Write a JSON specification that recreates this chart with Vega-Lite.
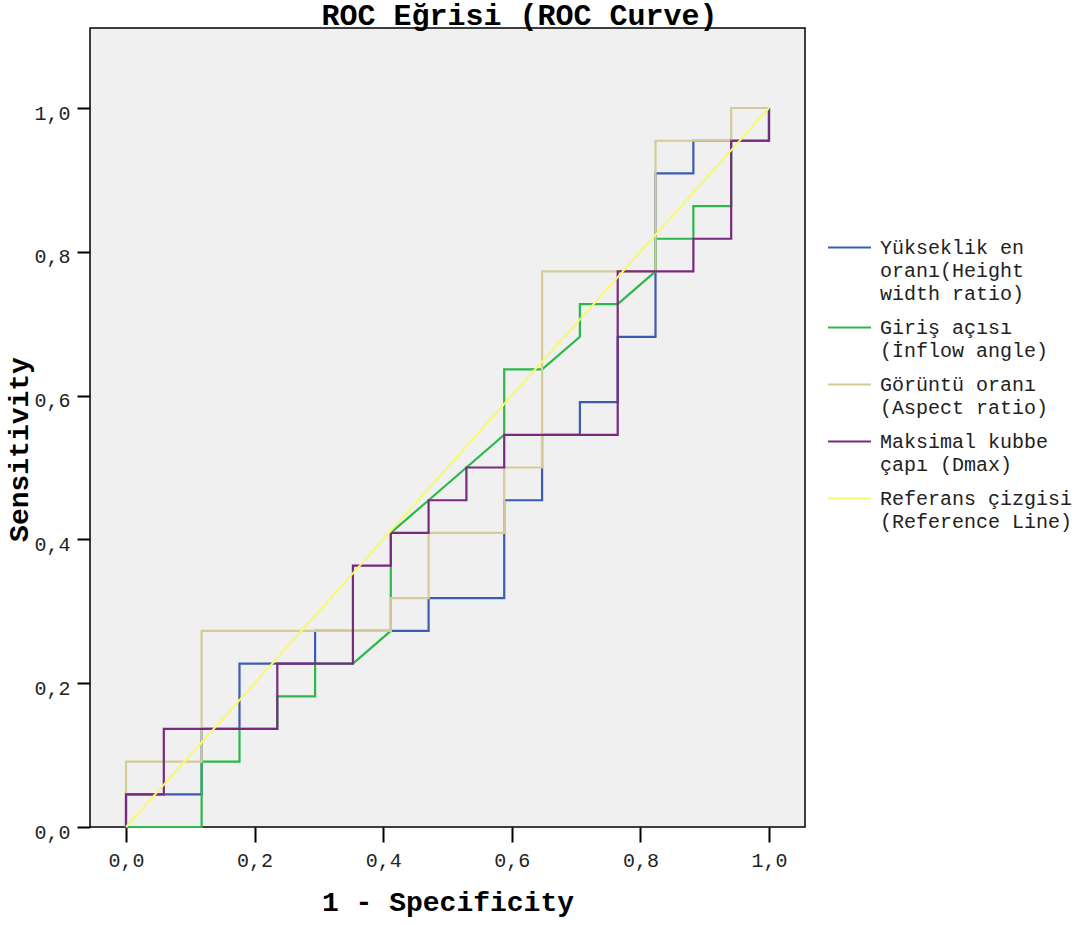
{
  "$schema": "https://vega.github.io/schema/vega-lite/v6.json",
  "width": 715,
  "height": 799,
  "autosize": {"type": "none"},
  "padding": {"left": 90, "top": 28, "right": 272, "bottom": 98},
  "background": "white",
  "title": {"text": "ROC Eğrisi (ROC Curve)", "font": "Liberation Mono", "fontSize": 30, "fontWeight": "bold", "color": "black", "anchor": "middle", "frame": "group", "dx": 72, "dy": 30, "baseline": "alphabetic", "offset": 3},
  "config": {
    "view": {"fill": "#F0F0F0", "stroke": "black", "strokeWidth": 1.5},
    "font": "Liberation Mono",
    "style": {"guide-label": {"lineHeight": 23}}
  },
  "data": {"values": [
    {"s": "Yükseklik en oranı(Height width ratio)", "k": 1, "x": 0, "y": 0},
    {"s": "Yükseklik en oranı(Height width ratio)", "k": 2, "x": 0, "y": 0.0455},
    {"s": "Yükseklik en oranı(Height width ratio)", "k": 3, "x": 0.1176, "y": 0.0455},
    {"s": "Yükseklik en oranı(Height width ratio)", "k": 4, "x": 0.1176, "y": 0.1364},
    {"s": "Yükseklik en oranı(Height width ratio)", "k": 5, "x": 0.1765, "y": 0.1364},
    {"s": "Yükseklik en oranı(Height width ratio)", "k": 6, "x": 0.1765, "y": 0.2273},
    {"s": "Yükseklik en oranı(Height width ratio)", "k": 7, "x": 0.2941, "y": 0.2273},
    {"s": "Yükseklik en oranı(Height width ratio)", "k": 8, "x": 0.2941, "y": 0.2727},
    {"s": "Yükseklik en oranı(Height width ratio)", "k": 9, "x": 0.4706, "y": 0.2727},
    {"s": "Yükseklik en oranı(Height width ratio)", "k": 10, "x": 0.4706, "y": 0.3182},
    {"s": "Yükseklik en oranı(Height width ratio)", "k": 11, "x": 0.5882, "y": 0.3182},
    {"s": "Yükseklik en oranı(Height width ratio)", "k": 12, "x": 0.5882, "y": 0.4545},
    {"s": "Yükseklik en oranı(Height width ratio)", "k": 13, "x": 0.6471, "y": 0.4545},
    {"s": "Yükseklik en oranı(Height width ratio)", "k": 14, "x": 0.6471, "y": 0.5455},
    {"s": "Yükseklik en oranı(Height width ratio)", "k": 15, "x": 0.7059, "y": 0.5455},
    {"s": "Yükseklik en oranı(Height width ratio)", "k": 16, "x": 0.7059, "y": 0.5909},
    {"s": "Yükseklik en oranı(Height width ratio)", "k": 17, "x": 0.7647, "y": 0.5909},
    {"s": "Yükseklik en oranı(Height width ratio)", "k": 18, "x": 0.7647, "y": 0.6818},
    {"s": "Yükseklik en oranı(Height width ratio)", "k": 19, "x": 0.8235, "y": 0.6818},
    {"s": "Yükseklik en oranı(Height width ratio)", "k": 20, "x": 0.8235, "y": 0.9091},
    {"s": "Yükseklik en oranı(Height width ratio)", "k": 21, "x": 0.8824, "y": 0.9091},
    {"s": "Yükseklik en oranı(Height width ratio)", "k": 22, "x": 0.8824, "y": 0.9545},
    {"s": "Yükseklik en oranı(Height width ratio)", "k": 23, "x": 1, "y": 0.9545},
    {"s": "Yükseklik en oranı(Height width ratio)", "k": 24, "x": 1, "y": 1},

    {"s": "Giriş açısı (İnflow angle)", "k": 1, "x": 0, "y": 0},
    {"s": "Giriş açısı (İnflow angle)", "k": 2, "x": 0.1176, "y": 0},
    {"s": "Giriş açısı (İnflow angle)", "k": 3, "x": 0.1176, "y": 0.0909},
    {"s": "Giriş açısı (İnflow angle)", "k": 4, "x": 0.1765, "y": 0.0909},
    {"s": "Giriş açısı (İnflow angle)", "k": 5, "x": 0.1765, "y": 0.1364},
    {"s": "Giriş açısı (İnflow angle)", "k": 6, "x": 0.2353, "y": 0.1364},
    {"s": "Giriş açısı (İnflow angle)", "k": 7, "x": 0.2353, "y": 0.1818},
    {"s": "Giriş açısı (İnflow angle)", "k": 8, "x": 0.2941, "y": 0.1818},
    {"s": "Giriş açısı (İnflow angle)", "k": 9, "x": 0.2941, "y": 0.2273},
    {"s": "Giriş açısı (İnflow angle)", "k": 10, "x": 0.3529, "y": 0.2273},
    {"s": "Giriş açısı (İnflow angle)", "k": 11, "x": 0.4118, "y": 0.2727},
    {"s": "Giriş açısı (İnflow angle)", "k": 12, "x": 0.4118, "y": 0.4091},
    {"s": "Giriş açısı (İnflow angle)", "k": 13, "x": 0.4706, "y": 0.4545},
    {"s": "Giriş açısı (İnflow angle)", "k": 14, "x": 0.5882, "y": 0.5455},
    {"s": "Giriş açısı (İnflow angle)", "k": 15, "x": 0.5882, "y": 0.6364},
    {"s": "Giriş açısı (İnflow angle)", "k": 16, "x": 0.6471, "y": 0.6364},
    {"s": "Giriş açısı (İnflow angle)", "k": 17, "x": 0.7059, "y": 0.6818},
    {"s": "Giriş açısı (İnflow angle)", "k": 18, "x": 0.7059, "y": 0.7273},
    {"s": "Giriş açısı (İnflow angle)", "k": 19, "x": 0.7647, "y": 0.7273},
    {"s": "Giriş açısı (İnflow angle)", "k": 20, "x": 0.8235, "y": 0.7727},
    {"s": "Giriş açısı (İnflow angle)", "k": 21, "x": 0.8235, "y": 0.8182},
    {"s": "Giriş açısı (İnflow angle)", "k": 22, "x": 0.8824, "y": 0.8182},
    {"s": "Giriş açısı (İnflow angle)", "k": 23, "x": 0.8824, "y": 0.8636},
    {"s": "Giriş açısı (İnflow angle)", "k": 24, "x": 0.9412, "y": 0.8636},
    {"s": "Giriş açısı (İnflow angle)", "k": 25, "x": 0.9412, "y": 0.9545},
    {"s": "Giriş açısı (İnflow angle)", "k": 26, "x": 1, "y": 0.9545},
    {"s": "Giriş açısı (İnflow angle)", "k": 27, "x": 1, "y": 1},

    {"s": "Görüntü oranı (Aspect ratio)", "k": 1, "x": 0, "y": 0},
    {"s": "Görüntü oranı (Aspect ratio)", "k": 2, "x": 0, "y": 0.0909},
    {"s": "Görüntü oranı (Aspect ratio)", "k": 3, "x": 0.1176, "y": 0.0909},
    {"s": "Görüntü oranı (Aspect ratio)", "k": 4, "x": 0.1176, "y": 0.2727},
    {"s": "Görüntü oranı (Aspect ratio)", "k": 5, "x": 0.4118, "y": 0.2727},
    {"s": "Görüntü oranı (Aspect ratio)", "k": 6, "x": 0.4118, "y": 0.3182},
    {"s": "Görüntü oranı (Aspect ratio)", "k": 7, "x": 0.4706, "y": 0.3182},
    {"s": "Görüntü oranı (Aspect ratio)", "k": 8, "x": 0.4706, "y": 0.4091},
    {"s": "Görüntü oranı (Aspect ratio)", "k": 9, "x": 0.5882, "y": 0.4091},
    {"s": "Görüntü oranı (Aspect ratio)", "k": 10, "x": 0.5882, "y": 0.5},
    {"s": "Görüntü oranı (Aspect ratio)", "k": 11, "x": 0.6471, "y": 0.5},
    {"s": "Görüntü oranı (Aspect ratio)", "k": 12, "x": 0.6471, "y": 0.7727},
    {"s": "Görüntü oranı (Aspect ratio)", "k": 13, "x": 0.8235, "y": 0.7727},
    {"s": "Görüntü oranı (Aspect ratio)", "k": 14, "x": 0.8235, "y": 0.9545},
    {"s": "Görüntü oranı (Aspect ratio)", "k": 15, "x": 0.9412, "y": 0.9545},
    {"s": "Görüntü oranı (Aspect ratio)", "k": 16, "x": 0.9412, "y": 1},
    {"s": "Görüntü oranı (Aspect ratio)", "k": 17, "x": 1, "y": 1},

    {"s": "Maksimal kubbe çapı (Dmax)", "k": 1, "x": 0, "y": 0},
    {"s": "Maksimal kubbe çapı (Dmax)", "k": 2, "x": 0, "y": 0.0455},
    {"s": "Maksimal kubbe çapı (Dmax)", "k": 3, "x": 0.0588, "y": 0.0455},
    {"s": "Maksimal kubbe çapı (Dmax)", "k": 4, "x": 0.0588, "y": 0.1364},
    {"s": "Maksimal kubbe çapı (Dmax)", "k": 5, "x": 0.2353, "y": 0.1364},
    {"s": "Maksimal kubbe çapı (Dmax)", "k": 6, "x": 0.2353, "y": 0.2273},
    {"s": "Maksimal kubbe çapı (Dmax)", "k": 7, "x": 0.3529, "y": 0.2273},
    {"s": "Maksimal kubbe çapı (Dmax)", "k": 8, "x": 0.3529, "y": 0.3636},
    {"s": "Maksimal kubbe çapı (Dmax)", "k": 9, "x": 0.4118, "y": 0.3636},
    {"s": "Maksimal kubbe çapı (Dmax)", "k": 10, "x": 0.4118, "y": 0.4091},
    {"s": "Maksimal kubbe çapı (Dmax)", "k": 11, "x": 0.4706, "y": 0.4091},
    {"s": "Maksimal kubbe çapı (Dmax)", "k": 12, "x": 0.4706, "y": 0.4545},
    {"s": "Maksimal kubbe çapı (Dmax)", "k": 13, "x": 0.5294, "y": 0.4545},
    {"s": "Maksimal kubbe çapı (Dmax)", "k": 14, "x": 0.5294, "y": 0.5},
    {"s": "Maksimal kubbe çapı (Dmax)", "k": 15, "x": 0.5882, "y": 0.5},
    {"s": "Maksimal kubbe çapı (Dmax)", "k": 16, "x": 0.5882, "y": 0.5455},
    {"s": "Maksimal kubbe çapı (Dmax)", "k": 17, "x": 0.7647, "y": 0.5455},
    {"s": "Maksimal kubbe çapı (Dmax)", "k": 18, "x": 0.7647, "y": 0.7727},
    {"s": "Maksimal kubbe çapı (Dmax)", "k": 19, "x": 0.8824, "y": 0.7727},
    {"s": "Maksimal kubbe çapı (Dmax)", "k": 20, "x": 0.8824, "y": 0.8182},
    {"s": "Maksimal kubbe çapı (Dmax)", "k": 21, "x": 0.9412, "y": 0.8182},
    {"s": "Maksimal kubbe çapı (Dmax)", "k": 22, "x": 0.9412, "y": 0.9545},
    {"s": "Maksimal kubbe çapı (Dmax)", "k": 23, "x": 1, "y": 0.9545},
    {"s": "Maksimal kubbe çapı (Dmax)", "k": 24, "x": 1, "y": 1},

    {"s": "Referans çizgisi (Reference Line)", "k": 1, "x": 0, "y": 0},
    {"s": "Referans çizgisi (Reference Line)", "k": 2, "x": 1, "y": 1}
  ]},
  "encoding": {
    "x": {
      "field": "x", "type": "quantitative",
      "scale": {"domain": [-0.056, 1.056], "nice": false, "zero": false},
      "axis": {
        "values": [0, 0.2, 0.4, 0.6, 0.8, 1],
        "labelExpr": "replace(format(datum.value, '.1f'), '.', ',')",
        "domain": false, "grid": false,
        "tickSize": 15, "tickWidth": 2, "tickColor": "black",
        "labelFont": "Liberation Mono", "labelFontSize": 20, "labelColor": "#222222", "labelPadding": 8,
        "title": "1 - Specificity", "titleFont": "Liberation Mono", "titleFontSize": 28, "titleFontWeight": "bold", "titleColor": "black", "titlePadding": 18
      }
    },
    "y": {
      "field": "y", "type": "quantitative",
      "scale": {"domain": [0, 1.1113], "nice": false, "zero": false},
      "axis": {
        "values": [0, 0.2, 0.4, 0.6, 0.8, 1],
        "labelExpr": "replace(format(datum.value, '.1f'), '.', ',')",
        "domain": false, "grid": false,
        "tickSize": 13, "tickWidth": 2, "tickColor": "black",
        "labelFont": "Liberation Mono", "labelFontSize": 20, "labelColor": "#222222", "labelPadding": 7, "labelOffset": 5,
        "title": "Sensitivity", "titleFont": "Liberation Mono", "titleFontSize": 28, "titleFontWeight": "bold", "titleColor": "black", "titlePadding": 0, "titleY": 421
      }
    },
    "color": {
      "field": "s", "type": "nominal",
      "scale": {
        "domain": ["Yükseklik en oranı(Height width ratio)", "Giriş açısı (İnflow angle)", "Görüntü oranı (Aspect ratio)", "Maksimal kubbe çapı (Dmax)", "Referans çizgisi (Reference Line)"],
        "range": ["#3D5BB3", "#2DB84B", "#D3CC96", "#7A2A7E", "#F9F871"]
      },
      "legend": {
        "orient": "none", "legendX": 737, "legendY": 197, "title": null, "padding": 0,
        "symbolType": "stroke", "symbolSize": 1849, "symbolStrokeWidth": 2,
        "labelFont": "Liberation Mono", "labelFontSize": 20, "labelColor": "#222222", "labelLimit": 400, "labelOffset": 8,
        "labelBaseline": "middle", "rowPadding": 1,
        "labelExpr": "datum.label == 'Yükseklik en oranı(Height width ratio)' ? ['Yükseklik en', 'oranı(Height', 'width ratio)'] : datum.label == 'Giriş açısı (İnflow angle)' ? ['Giriş açısı', '(İnflow angle)'] : datum.label == 'Görüntü oranı (Aspect ratio)' ? ['Görüntü oranı', '(Aspect ratio)'] : datum.label == 'Maksimal kubbe çapı (Dmax)' ? ['Maksimal kubbe', 'çapı (Dmax)'] : ['Referans çizgisi', '(Reference Line)']"
      }
    },
    "order": {"field": "k", "type": "quantitative"}
  },
  "layer": [
    {"transform": [{"filter": {"field": "s", "equal": "Yükseklik en oranı(Height width ratio)"}}], "mark": {"type": "line", "strokeWidth": 2.2, "interpolate": "linear"}},
    {"transform": [{"filter": {"field": "s", "equal": "Giriş açısı (İnflow angle)"}}], "mark": {"type": "line", "strokeWidth": 2.2, "interpolate": "linear"}},
    {"transform": [{"filter": {"field": "s", "equal": "Görüntü oranı (Aspect ratio)"}}], "mark": {"type": "line", "strokeWidth": 2.2, "interpolate": "linear"}},
    {"transform": [{"filter": {"field": "s", "equal": "Maksimal kubbe çapı (Dmax)"}}], "mark": {"type": "line", "strokeWidth": 2.2, "interpolate": "linear"}},
    {"transform": [{"filter": {"field": "s", "equal": "Referans çizgisi (Reference Line)"}}], "mark": {"type": "line", "strokeWidth": 2, "interpolate": "linear"}}
  ]
}
